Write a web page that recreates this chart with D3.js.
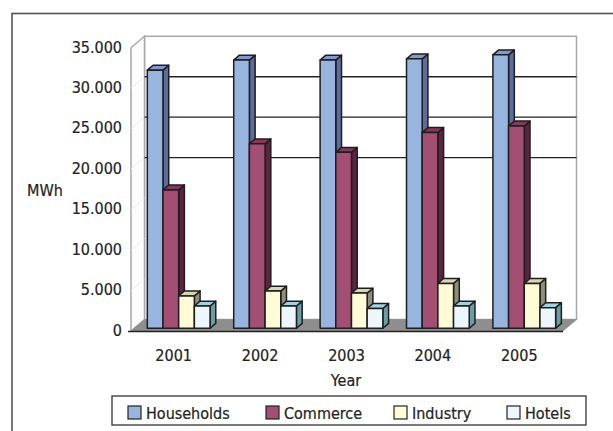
<!DOCTYPE html>
<html>
<head>
<meta charset="utf-8">
<script src="https://cdn.jsdelivr.net/npm/d3@7"></script>
<style>
  html, body { margin: 0; padding: 0; background: #fff; }
  svg { display: block; }
  text { font-family: "DejaVu Sans Condensed", "DejaVu Sans", sans-serif; fill: #222; stroke: #222; stroke-width: 0.2px; }
</style>
</head>
<body>
<svg id="chart" width="613" height="431"></svg>
<script>
const years = ["2001", "2002", "2003", "2004", "2005"];
const seriesNames = ["Households", "Commerce", "Industry", "Hotels"];
const households = [31900, 33150, 33150, 33300, 33800];
const commerce = [17100, 22800, 21750, 24200, 25000];
const industry = [4000, 4600, 4350, 5550, 5550];
const hotels = [2750, 2750, 2450, 2750, 2550];
const yTicks = [0, 5000, 10000, 15000, 20000, 25000, 30000, 35000];
const gridValues = [20000, 25000, 30000];
const tickLabels = ["0", "5.000", "10.000", "15.000", "20.000", "25.000", "30.000", "35.000"];
const xTitle = "Year";
const yTitle = "MWh";

const colors = {
  Households: { front: "#98B5DF", side: "#5C6D9D", top: "#8099D2" },
  Commerce:   { front: "#A24F73", side: "#5B2441", top: "#86385B" },
  Industry:   { front: "#FFFBD7", side: "#8E8E7A", top: "#D8D6B4" },
  Hotels:     { front: "#EEF6FD", side: "#6C9DA4", top: "#A3D2DE" }
};
const valuesBySeries = { Households: households, Commerce: commerce, Industry: industry, Hotels: hotels };

const svg = d3.select("#chart");

// geometry
const frontLeft = 131, frontRight = 563, frontZero = 331;
const depthDX = 13.5, depthDY = -11.5;
const barD0 = 0.235, barD1 = 0.66;

const yFront = d3.scaleLinear().domain([0, 35000]).range([frontZero, frontZero - 283.2]);
const yAt = (v, d) => yFront(v) + depthDY * d;
const xOff = d => depthDX * d;

const x0 = d3.scaleBand().domain(years)
  .range([frontLeft + xOff(barD0) + 1.3, frontRight + xOff(barD0) + 1.3])
  .paddingInner(0.274).paddingOuter(0.137);
const x1 = d3.scaleBand().domain(seriesNames).range([0, x0.bandwidth()]).padding(0);

// outer frame
svg.append("rect").attr("x", 12).attr("y", 13.5).attr("width", 640).attr("height", 460)
  .attr("fill", "none").attr("stroke", "#555").attr("stroke-width", 1.6);

// back wall
const bx0 = frontLeft + depthDX, bx1 = frontRight + depthDX;
const by0 = yAt(0, 1), by1 = yAt(35000, 1);
svg.append("rect").attr("x", bx0).attr("y", by1).attr("width", bx1 - bx0).attr("height", by0 - by1)
  .attr("fill", "#fff").attr("stroke", "#A8A8A8").attr("stroke-width", 1.5);

// left wall
svg.append("path")
  .attr("d", `M${frontLeft},${yFront(35000)} L${bx0},${by1} L${bx0},${by0} L${frontLeft},${frontZero} Z`)
  .attr("fill", "#fcfcfc").attr("stroke", "#A8A8A8").attr("stroke-width", 1.5);

// faint wall lines on left wall
svg.selectAll(".lwall").data(yTicks.slice(1, -1)).join("line")
  .attr("x1", frontLeft).attr("x2", bx0)
  .attr("y1", d => yFront(d)).attr("y2", d => yAt(d, 1))
  .attr("stroke", "#ececec").attr("stroke-width", 1);

// gridlines on back wall
svg.selectAll(".grid").data(gridValues).join("line")
  .attr("x1", bx0).attr("x2", bx1)
  .attr("y1", d => yAt(d, 1)).attr("y2", d => yAt(d, 1))
  .attr("stroke", "#222").attr("stroke-width", 1.3);

// floor
svg.append("path")
  .attr("d", `M${frontLeft},${frontZero} L${bx0},${by0} L${bx1},${by0} L${frontRight},${frontZero} Z`)
  .attr("fill", "#8E8E8E").attr("stroke", "#8E8E8E").attr("stroke-width", 0.8);
svg.append("line").attr("x1", frontLeft - 3).attr("x2", frontRight)
  .attr("y1", frontZero + 0.5).attr("y2", frontZero + 0.5)
  .attr("stroke", "#222").attr("stroke-width", 1.3);

// bars
const bars = [];
years.forEach((yr, i) => {
  seriesNames.forEach(s => bars.push({ year: yr, series: s, value: valuesBySeries[s][i] }));
});
const bw = x1.bandwidth();
const ddx = xOff(barD1 - barD0), ddy = depthDY * (barD1 - barD0);
const barG = svg.append("g");
bars.forEach(b => {
  const xl = x0(b.year) + x1(b.series);
  const xr = xl + bw;
  const yt = yAt(b.value, barD0);
  const yb = yAt(0, barD0);
  const c = colors[b.series];
  const g = barG.append("g").attr("stroke", "#1e1e1e").attr("stroke-width", 1.5).attr("stroke-linejoin", "round");
  g.append("path").attr("d", `M${xr},${yt} L${xr + ddx},${yt + ddy} L${xr + ddx},${yb + ddy} L${xr},${yb} Z`).attr("fill", c.side);
  g.append("path").attr("d", `M${xl},${yt} L${xl + ddx},${yt + ddy} L${xr + ddx},${yt + ddy} L${xr},${yt} Z`).attr("fill", c.top);
  g.append("rect").attr("x", xl).attr("y", yt).attr("width", bw).attr("height", yb - yt).attr("fill", c.front);
});

// y tick labels
svg.selectAll(".ytl").data(yTicks).join("text")
  .attr("x", 122).attr("y", d => yFront(d) - 1).attr("dy", "0.36em")
  .attr("text-anchor", "end").attr("font-size", 16)
  .text((d, i) => tickLabels[i]);

// x labels
svg.selectAll(".xtl").data(years).join("text")
  .attr("x", d => x0(d) + x0.bandwidth() / 2 - 5).attr("y", 361)
  .attr("text-anchor", "middle").attr("font-size", 16)
  .text(d => d);

svg.append("text").attr("x", 346).attr("y", 386).attr("text-anchor", "middle").attr("font-size", 16).text(xTitle);
svg.append("text").attr("x", 27).attr("y", 196).attr("font-size", 16).text(yTitle);

// legend
const legend = svg.append("g");
legend.append("rect").attr("x", 112).attr("y", 396).attr("width", 474).attr("height", 29)
  .attr("fill", "#fff").attr("stroke", "#333").attr("stroke-width", 1.3);
const legendX = [128, 266, 394, 507];
seriesNames.forEach((s, i) => {
  legend.append("rect").attr("x", legendX[i]).attr("y", 406).attr("width", 13).attr("height", 13)
    .attr("fill", colors[s].front).attr("stroke", "#222").attr("stroke-width", 1.2);
  legend.append("text").attr("x", legendX[i] + 18).attr("y", 419).attr("font-size", 16).text(s);
});
</script>
</body>
</html>
